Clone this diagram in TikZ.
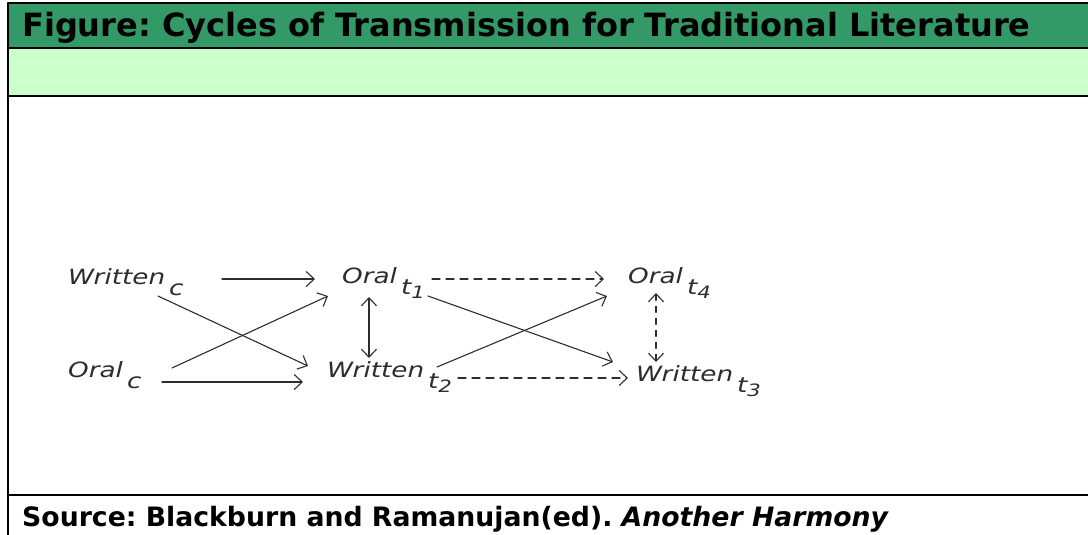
\documentclass[tikz,border=0pt]{standalone}
\usepackage{fontspec}
\setmainfont{DejaVu Sans}
\newfontfamily\diagfont[FakeStretch=1.25]{DejaVu Sans}
\usetikzlibrary{arrows.meta}
\definecolor{hdrgreen}{RGB}{51,153,102}
\definecolor{hdrlight}{RGB}{204,255,204}
\definecolor{inkgrey}{RGB}{45,45,45}
\frenchspacing
\newcommand{\lowsub}[2]{\hspace{4pt}\raisebox{-11pt}{#1\raisebox{-4pt}{\fontsize{17}{17}\selectfont #2}}}
\tikzset{lbl/.style={anchor=base west,inner sep=0pt,text=inkgrey,font=\diagfont\itshape\fontsize{21}{21}\selectfont},
	tip/.tip={Straight Barb[length=8pt,width=15pt,line width=1.1pt]},
	link/.style={draw=inkgrey,line width=1.1pt,-tip}}
\begin{document}
\begin{tikzpicture}[x=1pt,y=-1pt,line cap=round,line join=round]
	\useasboundingbox (0,0) rectangle (1088,535);
	\fill[hdrgreen] (8,3) rectangle (1088,48);
	\fill[hdrlight] (8,48) rectangle (1088,96);
	\draw[line width=2.5pt] (1088,3) -- (8,3) -- (8,535);
	\draw[line width=2.5pt] (8,48) -- (1088,48);
	\draw[line width=2.5pt] (8,96) -- (1088,96);
	\draw[line width=2.5pt] (8,495) -- (1088,495);
	\node[anchor=base west,inner sep=0pt,font=\bfseries\fontsize{32}{32}\selectfont] (title) at (22,37) {Figure: Cycles of Transmission for Traditional Literature};
	\node[anchor=base west,inner sep=0pt,font=\bfseries\fontsize{26.7}{27}\selectfont] (source) at (22,526) {Source: Blackburn and Ramanujan(ed). \textit{Another Harmony}};
	% the six forms of the text
	\node[lbl] (wc) at (68,284) {Written\lowsub{c}{}};
	\node[lbl] (oc) at (68,377) {Oral\lowsub{c}{}};
	\node[lbl] (ot1) at (342,283) {Oral\lowsub{t}{1}};
	\node[lbl] (wt2) at (327,377) {Written\lowsub{t}{2}};
	\node[lbl] (ot4) at (628,283) {Oral\lowsub{t}{4}};
	\node[lbl] (wt3) at (636,381) {Written\lowsub{t}{3}};
	% transmissions
	\draw[link] ([shift={(154,-5)}]wc.base west) -- ([shift={(-27,-4)}]ot1.base west);
	\draw[link] ([shift={(90,12)}]wc.base west) -- ([shift={(-19,-11)}]wt2.base west);
	\draw[link] ([shift={(104,-9)}]oc.base west) -- ([shift={(-14,13)}]ot1.base west);
	\draw[link] ([shift={(94,5)}]oc.base west) -- ([shift={(-24,5)}]wt2.base west);
	\draw[link,tip-tip] ([shift={(27,14)}]ot1.base west) -- ([shift={(42,-19)}]wt2.base west);
	\draw[link,dash pattern=on 8pt off 6pt] ([shift={(90,-4)}]ot1.base west) -- ([shift={(-24,-4)}]ot4.base west);
	\draw[link] ([shift={(86,13)}]ot1.base west) -- ([shift={(-23,-19)}]wt3.base west);
	\draw[link] ([shift={(110,-10)}]wt2.base west) -- ([shift={(-21,13)}]ot4.base west);
	\draw[link,dash pattern=on 8pt off 6pt] ([shift={(131,1)}]wt2.base west) -- ([shift={(-8,-3)}]wt3.base west);
	\draw[link,tip-tip,dash pattern=on 6pt off 6pt] ([shift={(28,10)}]ot4.base west) -- ([shift={(20,-19)}]wt3.base west);
\end{tikzpicture}
\end{document}
